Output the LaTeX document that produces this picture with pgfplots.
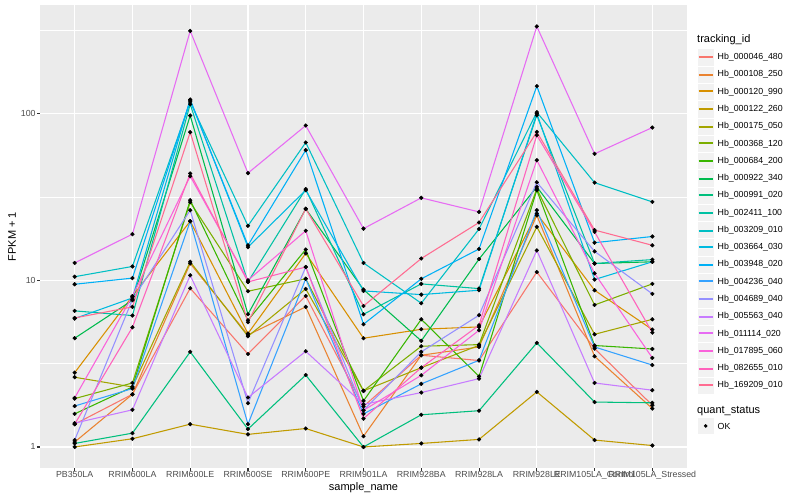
\documentclass[border=0pt]{standalone}
\usepackage{pgfplots}
\pgfplotsset{compat=1.18}
\usepackage{pgfplotstable}
\usepackage{fontspec}
\setmainfont{Liberation Sans}

\definecolor{c1}{HTML}{F8766D}
\definecolor{c2}{HTML}{EA8331}
\definecolor{c3}{HTML}{D89000}
\definecolor{c4}{HTML}{C09B00}
\definecolor{c5}{HTML}{A3A500}
\definecolor{c6}{HTML}{7CAE00}
\definecolor{c7}{HTML}{39B600}
\definecolor{c8}{HTML}{00BB4E}
\definecolor{c9}{HTML}{00BF7D}
\definecolor{c10}{HTML}{00C1A3}
\definecolor{c11}{HTML}{00BFC4}
\definecolor{c12}{HTML}{00BAE0}
\definecolor{c13}{HTML}{00B0F6}
\definecolor{c14}{HTML}{35A2FF}
\definecolor{c15}{HTML}{9590FF}
\definecolor{c16}{HTML}{C77CFF}
\definecolor{c17}{HTML}{E76BF3}
\definecolor{c18}{HTML}{FA62DB}
\definecolor{c19}{HTML}{FF62BC}
\definecolor{c20}{HTML}{FF6C91}
\definecolor{panelbg}{HTML}{EBEBEB}
\definecolor{keybg}{HTML}{F2F2F2}
\definecolor{gray30}{HTML}{4D4D4D}
\definecolor{gray20}{HTML}{333333}

% rows: PB350LA, RRIM600LA, RRIM600LE, RRIM600SE, RRIM600PE, RRIM901LA,
% RRIM928BA, RRIM928LA, RRIM928LE, RRIM105LA_Control, RRIM105LA_Stressed
\pgfplotstableread{
x  s1   s2   s3   s4   s5   s6   s7   s8   s9   s10   s11   s12   s13   s14  s15  s16  s17  s18  s19  s20
1  1.37 1.07 2.79 1.00 2.62 1.95 1.58 4.49 1.05 6.55  10.5  5.89  9.46  1.76 1.10 1.39 12.7 1.97 1.37 5.94
2  2.07 2.07 8.02 1.12 2.29 2.42 2.29 7.59 1.21 6.14  12.1  7.83  10.3  2.24 7.66 1.67 18.9 8.02 5.22 6.92
3  8.95 12.6 22.6 1.37 12.9 29.4 30.2 97.2 3.72 113.8 117.5 121.3 120.2 22.6 26.3 10.7 313  42.1 43.7 77.3
4  3.61 4.70 4.79 1.19 4.61 8.59 5.75 6.25 1.28 9.77  21.2  15.8  16.2  1.37 1.83 1.98 43.9 10.0 9.77 5.60
5  8.05 6.92 14.5 1.29 8.87 10.2 15.3 26.8 2.70 35.2  67.0  34.7  60.3  10.2 12.0 3.75 84.7 19.8 12.0 26.8
6  1.75 1.16 4.49 1.00 2.17 2.17 1.89 8.79 1.00 6.25  12.7  8.63  5.45  1.58 1.66 1.80 20.4 1.66 1.48 7.01
7  3.55 3.55 5.08 1.05 2.99 4.02 5.83 4.33 1.56 9.51  7.28  8.20  10.2  2.39 3.72 2.12 31.2 2.69 2.99 13.5
8  3.30 3.98 5.25 1.11 4.07 4.11 2.65 13.4 1.65 8.91  20.3  8.71  15.4  3.31 6.17 2.57 25.7 5.01 5.37 22.2
9  11.2 24.5 25.1 2.14 20.9 35.3 34.7 36.3 4.21 97.7  101.9 100.0 146.0 26.3 38.7 15.1 333  52.5 74.1 77.6
10 3.89 3.50 8.71 1.10 4.74 7.11 4.06 12.6 1.86 12.6  38.5  10.1  16.8  3.98 14.9 2.42 57.3 11.0 19.5 20.0
11 1.78 1.70 5.06 1.02 5.83 9.51 3.87 12.9 1.84 13.3  29.5  12.9  18.3  3.10 8.28 2.19 82.4 3.42 4.85 16.2
}\datatable

\begin{document}
\begin{tikzpicture}[x=1pt,y=1pt]
\useasboundingbox (0,0) rectangle (800,500);
\fill[white] (0,0) rectangle (800,500);
\begin{axis}[
  at={(40pt,32pt)}, anchor=south west,
  scale only axis, width=647pt, height=462.5pt,
  xmin=0.4, xmax=11.6,
  ymode=log, ymin=0.748, ymax=444.6,
  axis background/.style={fill=panelbg},
  axis line style={draw=none},
  tick pos=left,
  xtick={1,...,11},
  xticklabels={PB350LA,RRIM600LA,RRIM600LE,RRIM600SE,RRIM600PE,RRIM901LA,RRIM928BA,RRIM928LA,RRIM928LE,RRIM105LA\_Control,RRIM105LA\_Stressed},
  ytick={1,10,100}, yticklabels={1,10,100},
  minor ytick={3.1623,31.623,316.23},
  grid=both,
  major grid style={white, line width=1.07pt},
  minor grid style={white, line width=0.53pt},
  tick align=outside, major tick length=2.75pt, minor tick length=0pt,
  tick style={gray20, line width=1.07pt},
  /pgf/number format/assume math mode=true,
  ticklabel style={font=\fontsize{8.8}{10}\selectfont, text=gray30, inner sep=0pt},
  xticklabel style={anchor=north, yshift=0pt},
  yticklabel style={anchor=east, xshift=-1.5pt},
]
\pgfplotsinvokeforeach{1,...,20}{
  \addplot[c#1, line width=1.07pt, no marks] table[x=x, y=s#1]{\datatable};
}
\pgfplotsinvokeforeach{1,...,20}{
  \addplot[only marks, mark=*, mark size=1.9pt, black] table[x=x, y=s#1]{\datatable};
}
\end{axis}

% axis titles
\node[font=\fontsize{11}{13}\selectfont] at (363.5,12) {sample\_name};
\node[font=\fontsize{11}{13}\selectfont, rotate=90] at (12,263.25) {FPKM + 1};

% legend: tracking_id
\node[anchor=west, inner sep=0pt, font=\fontsize{11}{13}\selectfont] at (697,460) {tracking\_id};
\foreach \i/\nm in {1/Hb\_000046\_480, 2/Hb\_000108\_250, 3/Hb\_000120\_990, 4/Hb\_000122\_260,
  5/Hb\_000175\_050, 6/Hb\_000368\_120, 7/Hb\_000684\_200, 8/Hb\_000922\_340,
  9/Hb\_000991\_020, 10/Hb\_002411\_100, 11/Hb\_003209\_010, 12/Hb\_003664\_030,
  13/Hb\_003948\_020, 14/Hb\_004236\_040, 15/Hb\_004689\_040, 16/Hb\_005563\_040,
  17/Hb\_011114\_020, 18/Hb\_017895\_060, 19/Hb\_082655\_010, 20/Hb\_169209\_010}{
  \pgfmathsetmacro{\yy}{442.7-(\i-1)*17.28}
  \pgfmathsetmacro{\ly}{2*round((\yy-1)/2)+1}
  \fill[keybg, draw=white, line width=0.5pt] (697,\yy-8.64) rectangle (714.28,\yy+8.64);
  \draw[color=c\i, line width=1.7pt] (698.5,\ly) -- (712.8,\ly);
  \node[anchor=west, inner sep=0pt, font=\fontsize{8.8}{10}\selectfont] at (717.5,\yy) {\nm};
}

% legend: quant_status
\node[anchor=west, inner sep=0pt, font=\fontsize{11}{13}\selectfont] at (697,89) {quant\_status};
\fill[keybg, draw=white, line width=0.5pt] (697,74-8.64) rectangle (714.28,74+8.64);
\fill[black] (705.64,74) circle (1.9pt);
\node[anchor=west, inner sep=0pt, font=\fontsize{8.8}{10}\selectfont] at (717.5,74) {OK};
\end{tikzpicture}
\end{document}
